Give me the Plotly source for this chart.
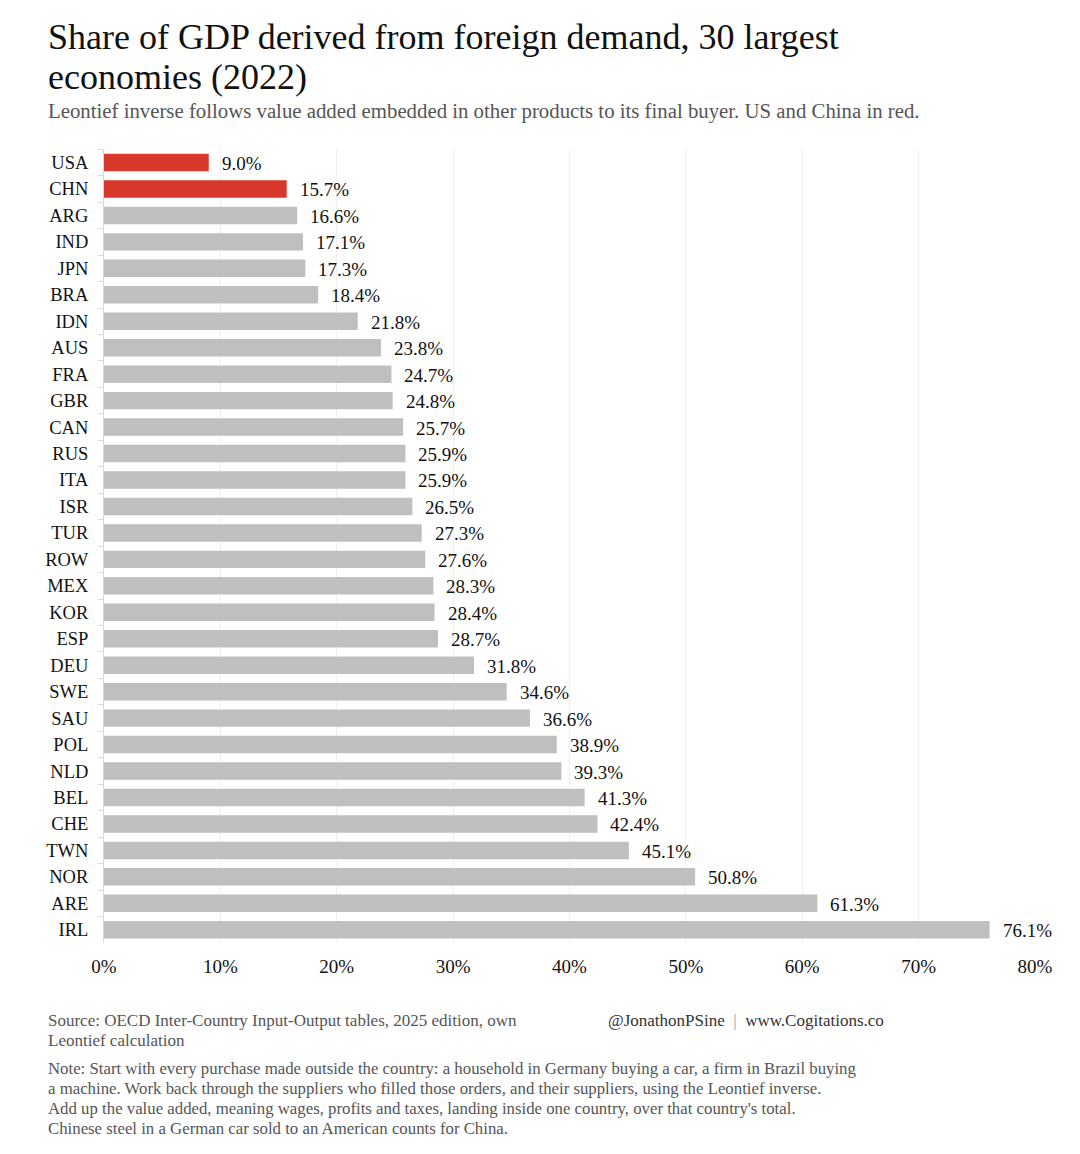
import plotly.graph_objects as go

countries = ["USA", "CHN", "ARG", "IND", "JPN", "BRA", "IDN", "AUS", "FRA", "GBR",
             "CAN", "RUS", "ITA", "ISR", "TUR", "ROW", "MEX", "KOR", "ESP", "DEU",
             "SWE", "SAU", "POL", "NLD", "BEL", "CHE", "TWN", "NOR", "ARE", "IRL"]
shares = [9.0, 15.7, 16.6, 17.1, 17.3, 18.4, 21.8, 23.8, 24.7, 24.8,
          25.7, 25.9, 25.9, 26.5, 27.3, 27.6, 28.3, 28.4, 28.7, 31.8,
          34.6, 36.6, 38.9, 39.3, 41.3, 42.4, 45.1, 50.8, 61.3, 76.1]
highlight = ["USA", "CHN"]
x_ticks = [0, 10, 20, 30, 40, 50, 60, 70, 80]
x_tick_labels = [f"{t}%" for t in x_ticks]

title_lines = ["Share of GDP derived from foreign demand, 30 largest", "economies (2022)"]
subtitle = "Leontief inverse follows value added embedded in other products to its final buyer. US and China in red."
source_lines = ["Source: OECD Inter-Country Input-Output tables, 2025 edition, own",
                "Leontief calculation"]
credit = "@JonathonPSine  <span style='color:#999999'>|</span>  www.Cogitations.co"
note_lines = [
    "Note: Start with every purchase made outside the country: a household in Germany buying a car, a firm in Brazil buying",
    "a machine. Work back through the suppliers who filled those orders, and their suppliers, using the Leontief inverse.",
    "Add up the value added, meaning wages, profits and taxes, landing inside one country, over that country's total.",
    "Chinese steel in a German car sold to an American counts for China.",
]

RED = "#D8382B"
GREY = "#BFBFBF"
FONT = "Liberation Serif"

colors = [RED if c in highlight else GREY for c in countries]

fig = go.Figure(go.Bar(
    x=shares, y=countries, orientation="h",
    marker=dict(color=colors, line=dict(width=0)),
    hoverinfo="skip",
))

OFF = 8  # page body margin
W, H = 1080 - OFF, 1154 - OFF
L, T = 104 - OFF, 149 - OFF
R = W - L - 931
B = H - T - 794
pw, ph = W - L - R, H - T - B

def px(sx):
    return (sx - OFF - L) / pw

def py(sy):
    return (H - B - (sy - OFF)) / ph

annotations = []

def line(text, sx, sy, size, color, xanchor="left"):
    annotations.append(dict(text=text, x=px(sx), y=py(sy), xanchor=xanchor,
                            yanchor="middle", align="left",
                            font=dict(family=FONT, size=size, color=color)))

line(title_lines[0], 46, 37, 36, "#111111")
line(title_lines[1], 46, 77, 36, "#111111")
line(subtitle, 46, 111, 20.8, "#555555")
for i, s in enumerate(source_lines):
    line(s, 46, 1020 + 20 * i, 17, "#555555")
line(credit, 606, 1020, 17, "#333333")
for i, s in enumerate(note_lines):
    line(s, 46, 1068 + 20 * i, 16.8, "#555555")

for a in annotations:
    a.update(xref="paper", yref="paper", showarrow=False)

for c, v in zip(countries, shares):
    annotations.append(dict(text=f"{v:.1f}%", x=v, y=c, xref="x", yref="y",
                            xanchor="left", yanchor="middle", xshift=11, yshift=-1,
                            showarrow=False,
                            font=dict(family=FONT, size=19, color="#111111")))

fig.update_layout(
    width=W, height=H,
    margin=dict(l=L, r=R, t=T, b=B, autoexpand=False),
    paper_bgcolor="white", plot_bgcolor="white",
    bargap=0.34,
    showlegend=False,
    annotations=annotations,
    xaxis=dict(range=[0, 80], tickvals=x_ticks, ticktext=x_tick_labels,
               showgrid=True, gridcolor="#EFEFEF", gridwidth=1,
               zeroline=False, showline=False, ticks="",
               ticklabelstandoff=10,
               tickfont=dict(family=FONT, size=19, color="#111111")),
    yaxis=dict(autorange="reversed", showgrid=False, zeroline=False,
               showline=True, linecolor="#D9D9D9", linewidth=1,
               ticks="outside", tickson="boundaries", ticklen=5,
               tickcolor="#D9D9D9", ticklabelstandoff=11,
               tickfont=dict(family=FONT, size=18.5, color="#111111")),
    font=dict(family=FONT),
)

fig.write_html("out.html")
